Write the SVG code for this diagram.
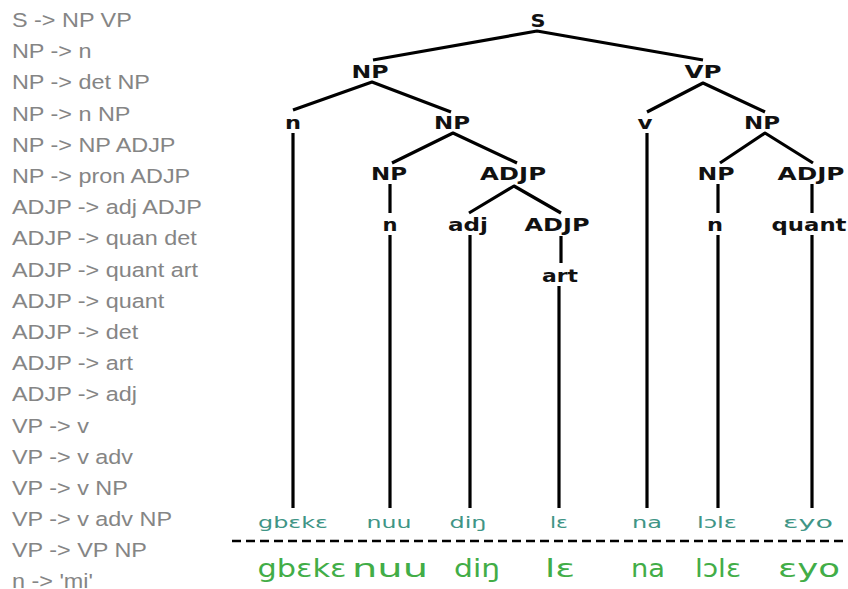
<svg xmlns="http://www.w3.org/2000/svg" width="848" height="589" viewBox="0 0 848 589">
  <style>
    .rule { font-family: "Liberation Sans", Arial, sans-serif; font-size: 19.5px; fill: #858585; }
    .cat { font-family: "DejaVu Sans", Verdana, sans-serif; font-size: 17px; font-weight: bold; fill: #111; text-anchor: middle; }
    .word { font-family: "DejaVu Sans", sans-serif; font-size: 15px; fill: #3f9586; text-anchor: middle; }
    .gloss { font-family: "DejaVu Sans", sans-serif; font-size: 25px; fill: #42ad47; text-anchor: middle; }
    .edge { stroke: #000; stroke-width: 3.2; fill: none; stroke-linejoin: round; }
  </style>
  <rect width="848" height="589" fill="#fff"/>

  <!-- grammar rules, drawn slightly widened -->
  <g id="grammar" class="rule" transform="scale(1.2,1)">
    <text x="10" y="27">S -&gt; NP VP</text>
    <text x="10" y="58">NP -&gt; n</text>
    <text x="10" y="89">NP -&gt; det NP</text>
    <text x="10" y="121">NP -&gt; n NP</text>
    <text x="10" y="152">NP -&gt; NP ADJP</text>
    <text x="10" y="183">NP -&gt; pron ADJP</text>
    <text x="10" y="214">ADJP -&gt; adj ADJP</text>
    <text x="10" y="245">ADJP -&gt; quan det</text>
    <text x="10" y="277">ADJP -&gt; quant art</text>
    <text x="10" y="308">ADJP -&gt; quant</text>
    <text x="10" y="339">ADJP -&gt; det</text>
    <text x="10" y="370">ADJP -&gt; art</text>
    <text x="10" y="401">ADJP -&gt; adj</text>
    <text x="10" y="433">VP -&gt; v</text>
    <text x="10" y="464">VP -&gt; v adv</text>
    <text x="10" y="495">VP -&gt; v NP</text>
    <text x="10" y="526">VP -&gt; v adv NP</text>
    <text x="10" y="557">VP -&gt; VP NP</text>
    <text x="10" y="588">n -&gt; 'mi'</text>
  </g>

  <!-- tree edges -->
  <g id="connectors" class="edge">
    <polyline points="373,60 537,31 703,60"/>
    <polyline points="293,110 372,82 451,112"/>
    <polyline points="647,112 703,83 765,112"/>
    <polyline points="392,163 453,133 517,163"/>
    <polyline points="469,213 514,186 561,213"/>
    <polyline points="720,163 765,133 813,163"/>
    <line x1="390" y1="184" x2="390" y2="213"/>
    <line x1="718" y1="184" x2="718" y2="213"/>
    <line x1="812" y1="184" x2="812" y2="213"/>
    <line x1="561" y1="236" x2="561" y2="263"/>
    <line x1="293" y1="133" x2="293" y2="508"/>
    <line x1="647" y1="133" x2="647" y2="508"/>
    <line x1="390" y1="235" x2="390" y2="508"/>
    <line x1="470" y1="235" x2="470" y2="508"/>
    <line x1="718" y1="235" x2="718" y2="508"/>
    <line x1="812" y1="235" x2="812" y2="508"/>
    <line x1="559" y1="286" x2="559" y2="508"/>
  </g>

  <!-- tree nodes -->
  <g id="S" class="cat"><text x="538" y="27" textLength="15" lengthAdjust="spacingAndGlyphs">S</text></g>
  <g id="NP1" class="cat"><text x="370" y="78" textLength="37" lengthAdjust="spacingAndGlyphs">NP</text></g>
  <g id="VP" class="cat"><text x="703" y="78" textLength="37" lengthAdjust="spacingAndGlyphs">VP</text></g>
  <g id="n1" class="cat"><text x="293" y="129" textLength="16" lengthAdjust="spacingAndGlyphs">n</text></g>
  <g id="NP2" class="cat"><text x="452" y="129" textLength="36" lengthAdjust="spacingAndGlyphs">NP</text></g>
  <g id="v" class="cat"><text x="645" y="129" textLength="15" lengthAdjust="spacingAndGlyphs">v</text></g>
  <g id="NP3" class="cat"><text x="762" y="129" textLength="36" lengthAdjust="spacingAndGlyphs">NP</text></g>
  <g id="NP4" class="cat"><text x="389" y="180" textLength="36" lengthAdjust="spacingAndGlyphs">NP</text></g>
  <g id="ADJP1" class="cat"><text x="513" y="180" textLength="66" lengthAdjust="spacingAndGlyphs">ADJP</text></g>
  <g id="NP5" class="cat"><text x="716" y="180" textLength="37" lengthAdjust="spacingAndGlyphs">NP</text></g>
  <g id="ADJP2" class="cat"><text x="811" y="180" textLength="67" lengthAdjust="spacingAndGlyphs">ADJP</text></g>
  <g id="n2" class="cat"><text x="390" y="231" textLength="15" lengthAdjust="spacingAndGlyphs">n</text></g>
  <g id="adj" class="cat"><text x="468" y="231" textLength="40" lengthAdjust="spacingAndGlyphs">adj</text></g>
  <g id="ADJP3" class="cat"><text x="557" y="231" textLength="65" lengthAdjust="spacingAndGlyphs">ADJP</text></g>
  <g id="n3" class="cat"><text x="715" y="231" textLength="16" lengthAdjust="spacingAndGlyphs">n</text></g>
  <g id="quant" class="cat"><text x="809" y="231" textLength="75" lengthAdjust="spacingAndGlyphs">quant</text></g>
  <g id="art" class="cat"><text x="560" y="282" textLength="36" lengthAdjust="spacingAndGlyphs">art</text></g>

  <!-- leaves -->
  <g id="leaves" class="word">
    <text x="293" y="528" textLength="70" lengthAdjust="spacingAndGlyphs">gbɛkɛ</text>
    <text x="389" y="528" textLength="45" lengthAdjust="spacingAndGlyphs">nuu</text>
    <text x="468" y="528" textLength="37" lengthAdjust="spacingAndGlyphs">diŋ</text>
    <text x="559" y="528" textLength="18" lengthAdjust="spacingAndGlyphs">lɛ</text>
    <text x="647" y="528" textLength="30" lengthAdjust="spacingAndGlyphs">na</text>
    <text x="717" y="528" textLength="40" lengthAdjust="spacingAndGlyphs">lɔlɛ</text>
    <text x="808" y="528" textLength="50" lengthAdjust="spacingAndGlyphs">ɛyo</text>
  </g>

  <line id="divider" x1="232" y1="541" x2="848" y2="541" stroke="#000" stroke-width="2.5" stroke-dasharray="9,5"/>

  <!-- sentence -->
  <g id="sentence" class="gloss">
    <text x="302" y="577" textLength="89" lengthAdjust="spacingAndGlyphs">gbɛkɛ</text>
    <text x="390" y="577" textLength="76" lengthAdjust="spacingAndGlyphs">nuu</text>
    <text x="477" y="577" textLength="46" lengthAdjust="spacingAndGlyphs">diŋ</text>
    <text x="560" y="577" textLength="30" lengthAdjust="spacingAndGlyphs">lɛ</text>
    <text x="648" y="577" textLength="34" lengthAdjust="spacingAndGlyphs">na</text>
    <text x="718" y="577" textLength="46" lengthAdjust="spacingAndGlyphs">lɔlɛ</text>
    <text x="809" y="577" textLength="62" lengthAdjust="spacingAndGlyphs">ɛyo</text>
  </g>
</svg>
